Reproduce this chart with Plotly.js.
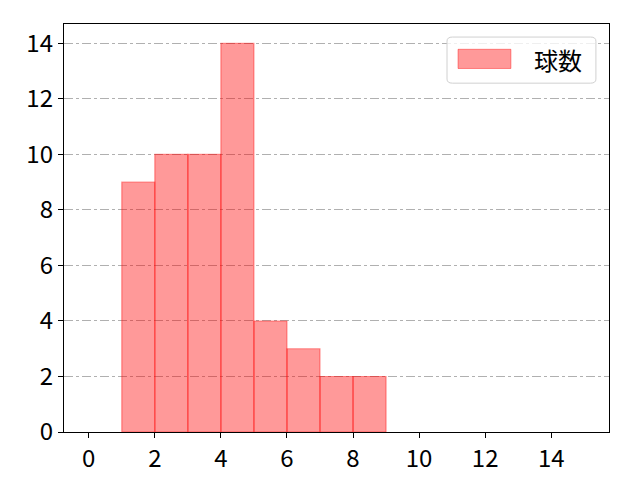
<!DOCTYPE html>
<html>
<head>
<meta charset="utf-8">
<script src="https://cdn.plot.ly/plotly-3.0.1.min.js"></script>
<style>html,body{margin:0;padding:0;background:#fff;}#chart{width:640px;height:480px;}</style>
</head>
<body>
<div id="chart"></div>
<script>
// bin left edges (width 1) and counts
var binStarts = [1, 2, 3, 4, 5, 6, 7, 8];
var counts = [9, 10, 10, 14, 4, 3, 2, 2];
var seriesName = "球数";
var xTicks = [0, 2, 4, 6, 8, 10, 12, 14];
var yTicks = [0, 2, 4, 6, 8, 10, 12, 14];

var font = "'Noto Sans CJK JP', 'DejaVu Sans', sans-serif";

var trace = {
  type: 'bar',
  x: binStarts,
  y: counts,
  width: binStarts.map(function(){return 1;}),
  offset: 0,
  name: seriesName,
  marker: {color: 'rgba(255,0,0,0.4)', line: {color: 'rgba(255,0,0,0.4)', width: 1.2}},
  showlegend: false,
  hoverinfo: 'skip'
};

var layout = {
  width: 640, height: 480,
  margin: {l: 64, r: 31, t: 24, b: 48},
  paper_bgcolor: '#fff', plot_bgcolor: '#fff',
  font: {family: font, size: 24, color: '#000'},
  bargap: 0,
  xaxis: {
    range: [-0.75, 15.75], tickvals: xTicks, ticktext: xTicks.map(String),
    showgrid: false, zeroline: false,
    showline: true, linecolor: '#000', linewidth: 1.2, mirror: true,
    ticks: 'outside', ticklen: 5, tickwidth: 1, tickcolor: '#000',
    tickfont: {family: font, size: 24}
  },
  yaxis: {
    range: [0, 14.7], tickvals: yTicks, ticktext: yTicks.map(String),
    showgrid: true, gridcolor: '#b0b0b0', gridwidth: 1, griddash: 'dashdot',
    zeroline: false,
    showline: true, linecolor: '#000', linewidth: 1.2, mirror: true,
    ticks: 'outside', ticklen: 5, tickwidth: 1, tickcolor: '#000',
    tickfont: {family: font, size: 24}
  },
  shapes: [
    {type: 'path', xref: 'paper', yref: 'paper', layer: 'above',
     path: 'M 0.7028,0.958 Q 0.7028,0.968 0.7128,0.968 L 0.966,0.968 Q 0.976,0.968 0.976,0.958 L 0.976,0.865 Q 0.976,0.855 0.966,0.855 L 0.7128,0.855 Q 0.7028,0.855 0.7028,0.865 Z',
     fillcolor: 'rgba(255,255,255,0.8)', line: {color: '#d0d0d0', width: 1}},
    {type: 'rect', xref: 'paper', yref: 'paper', layer: 'above',
     x0: 0.723, x1: 0.820, y0: 0.891, y1: 0.938,
     fillcolor: 'rgba(255,0,0,0.4)', line: {color: 'rgba(255,0,0,0.4)', width: 1}}
  ],
  annotations: [
    {xref: 'paper', yref: 'paper', x: 0.906, y: 0.913, xanchor: 'center', yanchor: 'middle',
     text: seriesName, showarrow: false, font: {family: font, size: 24, color: '#000'}}
  ]
};

Plotly.newPlot('chart', [trace], layout, {displayModeBar: false, staticPlot: true});
</script>
</body>
</html>
